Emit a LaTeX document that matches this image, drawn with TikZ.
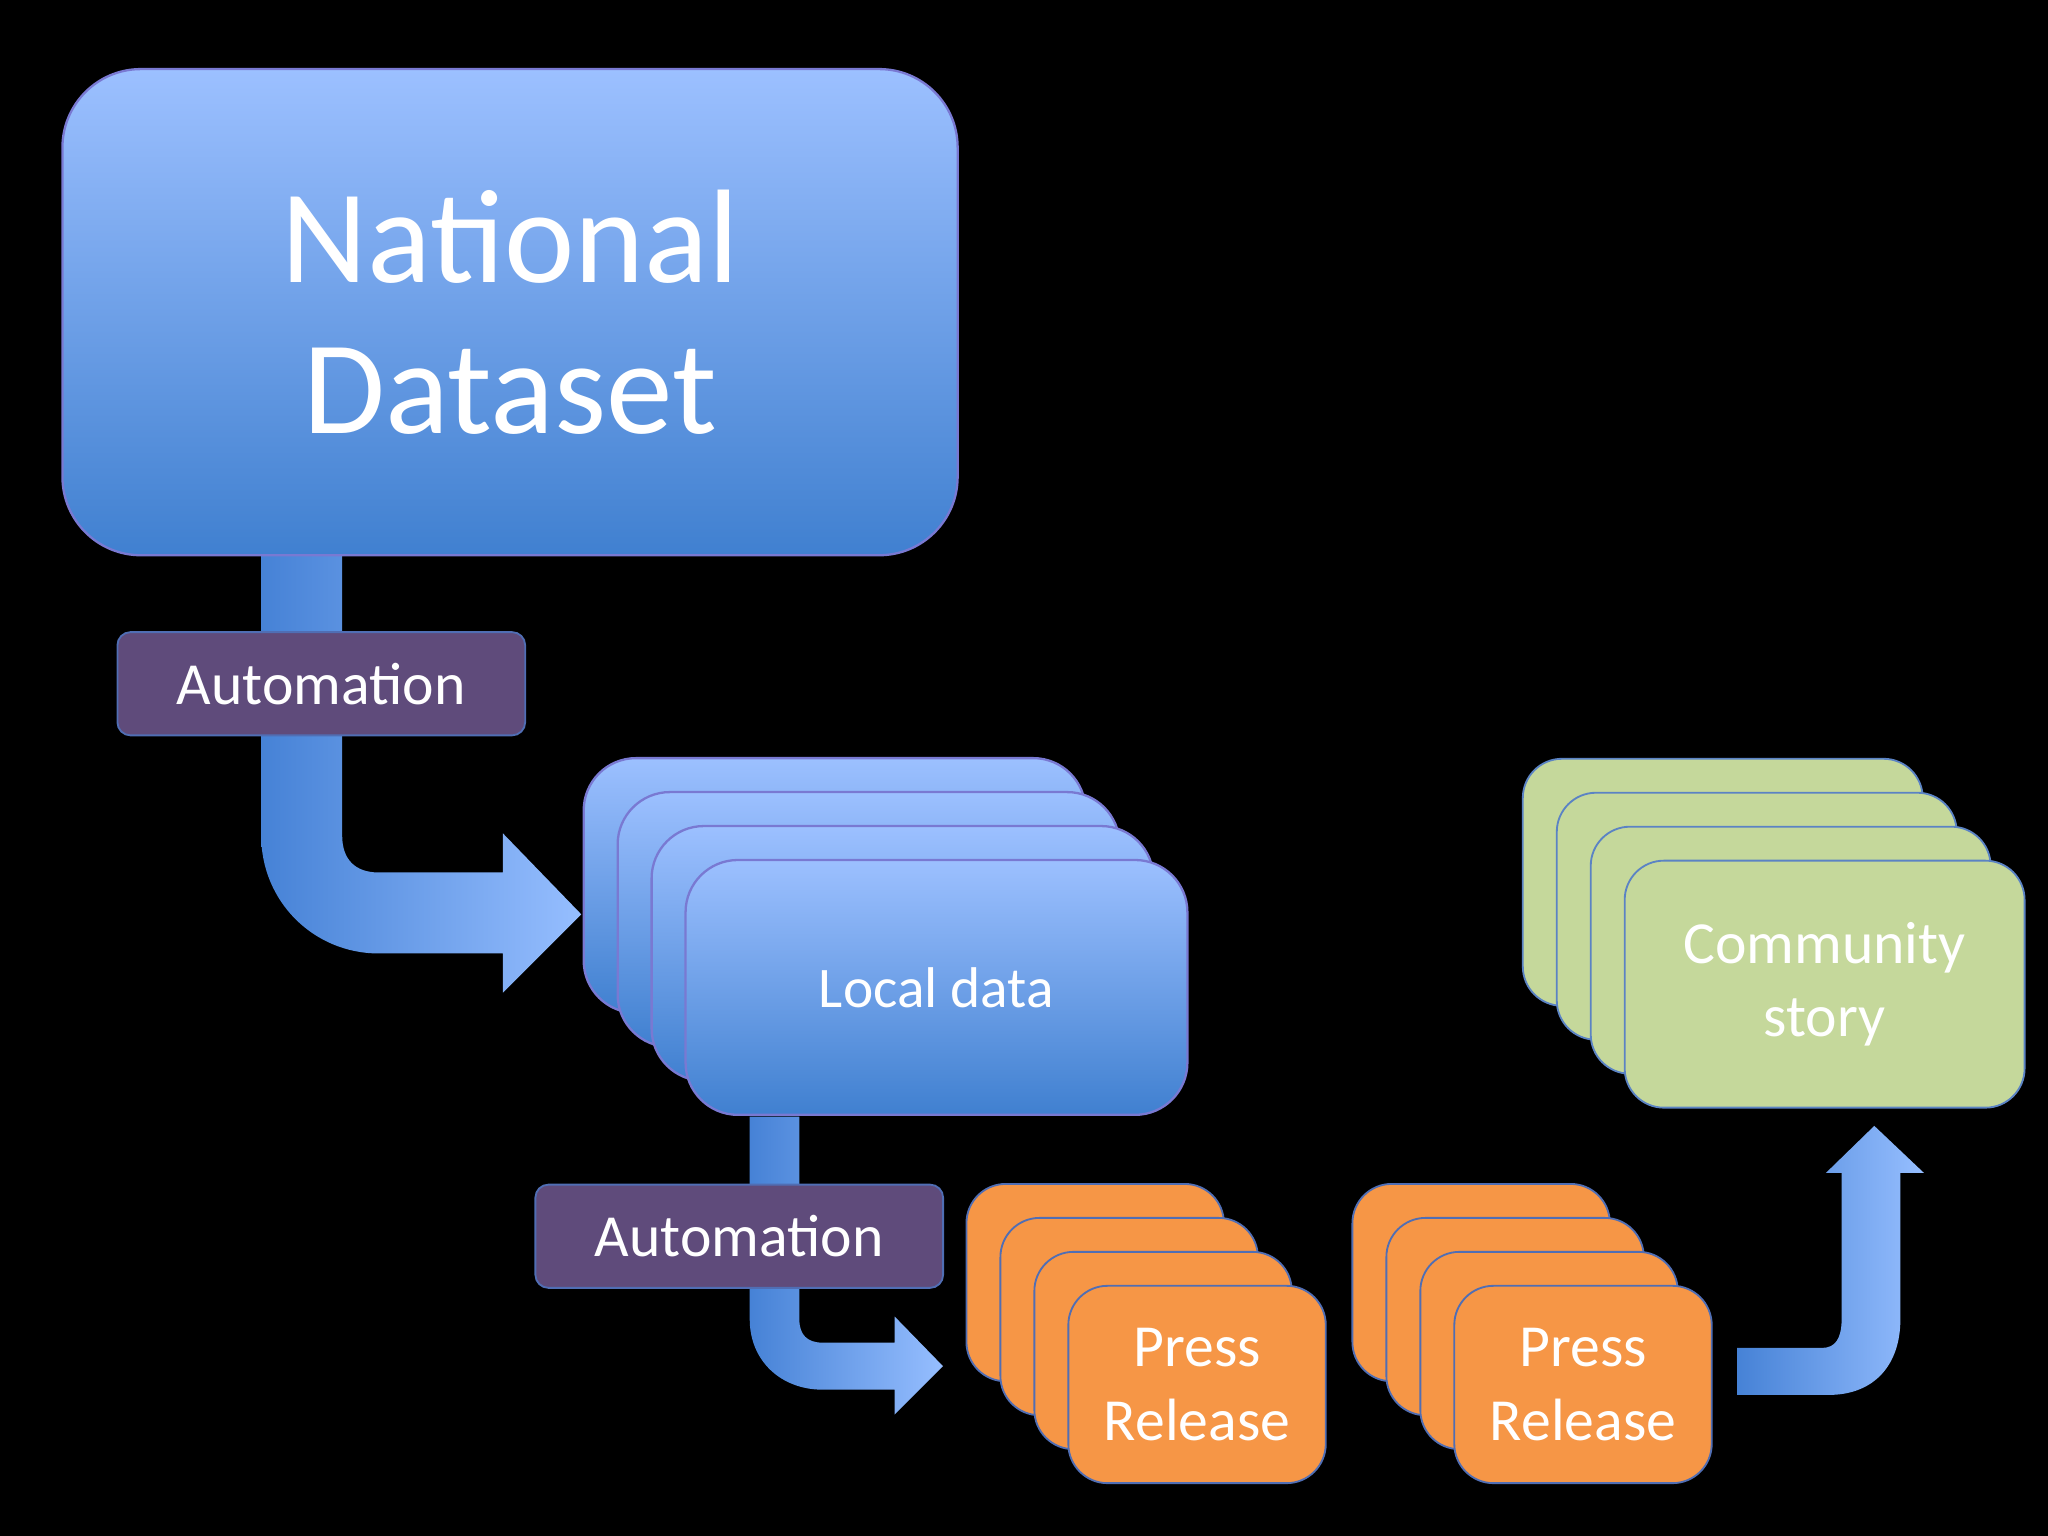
\documentclass[tikz,border=0pt]{standalone}
\usepackage{fontspec}
\setmainfont{Carlito}
\begin{document}
\begin{tikzpicture}[x=0.01cm,y=-0.01cm,
  bluebox/.style={draw=blue!50!gray!70, line width=0.5pt, shading=axis, top color={rgb,255:red,156;green,192;blue,255}, bottom color={rgb,255:red,64;green,128;blue,208}, text=white},
  autobox/.style={draw={rgb,255:red,80;green,110;blue,180}, fill={rgb,255:red,95;green,75;blue,123}, rounded corners=0.1cm, minimum width=3.12cm, minimum height=0.79cm, text=white, font=\fontsize{13}{15}\selectfont},
  localcard/.style={bluebox, rounded corners=0.4cm, minimum width=3.84cm, minimum height=1.95cm, font=\fontsize{12.5}{15}\selectfont},
  presscard/.style={draw={rgb,255:red,80;green,110;blue,180}, fill={rgb,255:red,246;green,150;blue,70}, rounded corners=0.3cm, minimum width=1.97cm, minimum height=1.51cm, text=white, align=center, font=\fontsize{13}{16}\selectfont},
  commcard/.style={draw={rgb,255:red,91;green,131;blue,196}, fill={rgb,255:red,197;green,216;blue,155}, rounded corners=0.3cm, minimum width=3.06cm, minimum height=1.89cm, text=white, align=center, font=\fontsize{13}{16}\selectfont},
  arrowfill/.style={shading=axis, shading angle=90, left color={rgb,255:red,70;green,130;blue,214}, right color={rgb,255:red,150;green,190;blue,255}}
]
\fill[black] (0,0) rectangle (1568,1176);
\useasboundingbox (0,0) rectangle (1568,1176);
% arrow 1
\fill[arrowfill] (200,425)--(200,640) .. controls (200,690) and (240,730) .. (290,730) -- (385,730)--(385,760)--(445,700)--(385,638)--(385,668)--(290,668) .. controls (272,668) and (262,658) .. (262,640) --(262,425)--cycle;
% arrow 2
\fill[arrowfill] (574,855)--(574,1010) .. controls (574,1042) and (598,1064) .. (630,1064) -- (685,1064)--(685,1083)--(722,1046)--(685,1008)--(685,1028)--(630,1028) .. controls (618,1028) and (612,1022) .. (612,1010) --(612,855)--cycle;
% arrow 3
\fill[arrowfill] (1330,1068)--(1400,1068) .. controls (1435,1068) and (1455,1045) .. (1455,1010) -- (1455,898)--(1473,898)--(1435,862)--(1398,898)--(1410,898)--(1410,1010) .. controls (1410,1025) and (1405,1032) .. (1395,1032)--(1330,1032)--cycle;
% national
\node[bluebox, rounded corners=0.6cm, minimum width=6.85cm, minimum height=3.72cm, align=center, font=\fontsize{29}{33}\selectfont] (nat) at (390.5,239) {National\\Dataset};
\node[autobox] (auto1) at (246,523.5) {Automation};
\node[autobox] (auto2) at (566,946.5) {Automation};
% local data
\node[localcard] (l1) at (639,678) {};
\node[localcard] (l2) at (665,704) {};
\node[localcard] (l3) at (691,730) {};
\node[localcard] (l4) at (717,756) {Local data};
% press 1
\node[presscard] (p1) at (838.5,982) {};
\node[presscard] (p2) at (864.5,1008) {};
\node[presscard] (p3) at (890.5,1034) {};
\node[presscard] (p4) at (916.5,1060) {Press\\Release};
% press 2
\node[presscard] (q1) at (1134,982) {};
\node[presscard] (q2) at (1160,1008) {};
\node[presscard] (q3) at (1186,1034) {};
\node[presscard] (q4) at (1212,1060) {Press\\Release};
% community
\node[commcard] (c1) at (1319,675.5) {};
\node[commcard] (c2) at (1345,701.5) {};
\node[commcard] (c3) at (1371,727.5) {};
\node[commcard] (c4) at (1397,753.5) {Community\\story};
\end{tikzpicture}
\end{document}
